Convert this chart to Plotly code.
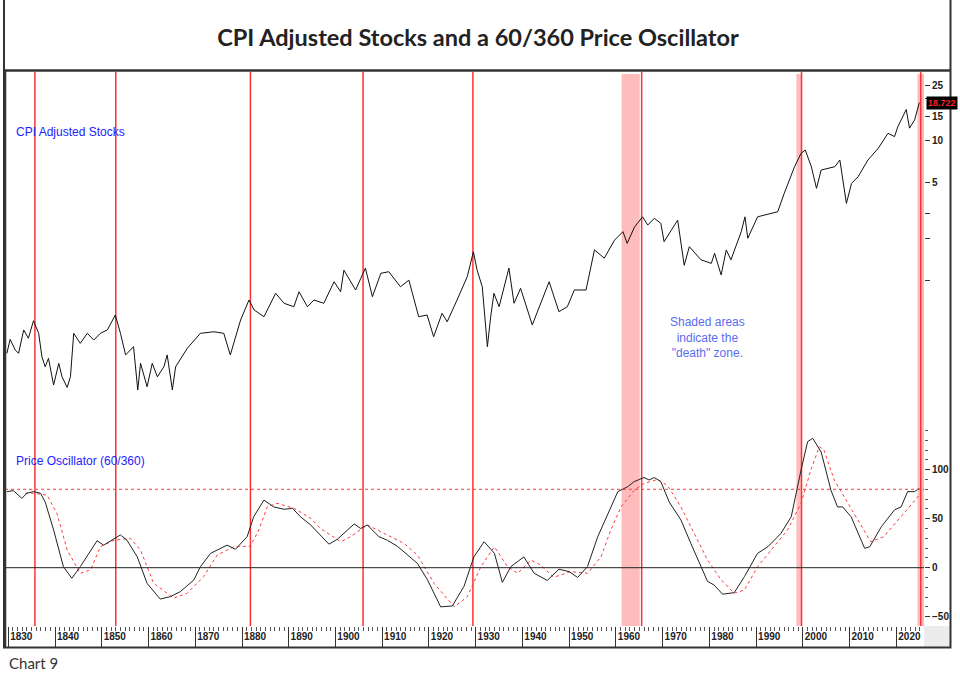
import plotly.graph_objects as go

# ---------------- data ----------------
price_years = [1829.7, 1830.4, 1831.5, 1832.2, 1833.3, 1834.3, 1835.4, 1836.5, 1837.2, 1837.9,
               1838.6, 1839.7, 1840.8, 1841.5, 1842.6, 1843.3, 1844.0, 1845.4, 1846.9, 1848.3,
               1849.7, 1851.2, 1852.9, 1854.0, 1855.1, 1856.8, 1857.7, 1858.3, 1859.7, 1860.8,
               1861.9, 1863.3, 1864.0, 1865.1, 1865.8, 1868.3, 1871.1, 1874.0, 1876.1, 1877.5,
               1879.7, 1881.5, 1882.6, 1884.7, 1887.2, 1889.0, 1891.1, 1892.2, 1894.0, 1895.4,
               1897.5, 1899.7, 1901.1, 1901.8, 1904.3, 1906.4, 1907.9, 1909.7, 1911.4, 1913.9,
               1915.7, 1917.8, 1919.6, 1921.0, 1922.8, 1923.9, 1926.0, 1928.2, 1929.5, 1930.3,
               1931.4, 1932.5, 1933.2, 1933.9, 1935.0, 1937.1, 1938.2, 1939.6, 1942.1, 1943.9,
               1945.7, 1947.8, 1949.6, 1951.1, 1953.6, 1955.4, 1957.5, 1959.7, 1961.5, 1962.4,
               1964.0, 1965.7, 1966.8, 1968.2, 1969.6, 1970.3, 1973.2, 1974.6, 1975.7, 1978.2,
               1980.4, 1981.1, 1982.5, 1983.6, 1984.6, 1986.8, 1987.6, 1988.2, 1990.3, 1991.7,
               1994.6, 1996.0, 1998.2, 1999.6, 2000.5, 2001.8, 2002.9, 2003.9, 2006.8, 2007.9,
               2009.3, 2010.4, 2011.8, 2013.9, 2016.1, 2018.2, 2019.6, 2020.3, 2022.1, 2022.8,
               2023.9, 2024.9]
price_values = [0.303, 0.381, 0.320, 0.303, 0.445, 0.388, 0.518, 0.421, 0.286, 0.243,
                0.279, 0.180, 0.257, 0.206, 0.173, 0.206, 0.421, 0.357, 0.421, 0.377,
                0.421, 0.445, 0.569, 0.421, 0.295, 0.338, 0.166, 0.257, 0.175, 0.257,
                0.206, 0.243, 0.295, 0.166, 0.243, 0.329, 0.421, 0.432, 0.421, 0.295,
                0.524, 0.728, 0.618, 0.553, 0.813, 0.690, 0.652, 0.834, 0.652, 0.728,
                0.690, 0.984, 0.834, 1.19, 0.859, 1.23, 0.769, 1.13, 1.16, 0.906,
                1.01, 0.553, 0.569, 0.398, 0.585, 0.509, 0.728, 1.07, 1.61, 1.19,
                0.906, 0.338, 0.553, 0.813, 0.652, 1.23, 0.690, 0.883, 0.483, 0.690,
                0.984, 0.601, 0.652, 0.859, 0.859, 1.66, 1.45, 1.95, 2.24, 1.85,
                2.43, 2.86, 2.50, 2.79, 2.57, 1.90, 2.71, 1.29, 1.75, 1.41,
                1.33, 1.57, 1.10, 1.66, 1.41, 2.24, 2.86, 2.01, 2.86, 2.94,
                3.11, 4.21, 6.52, 8.13, 8.59, 6.52, 4.57, 6.18, 6.52, 7.28,
                3.57, 4.96, 5.53, 7.28, 8.83, 11.3, 10.7, 12.6, 16.7, 12.3,
                14.1, 18.722]

osc_years = [1829.7, 1831.1, 1832.9, 1834.0, 1835.4, 1836.9, 1837.9, 1839.7, 1841.8, 1843.6,
             1845.4, 1847.6, 1849.0, 1850.4, 1852.2, 1854.0, 1855.4, 1857.6, 1859.7, 1862.5,
             1864.7, 1866.8, 1869.7, 1871.1, 1873.3, 1876.8, 1878.6, 1881.1, 1882.5, 1884.7,
             1886.8, 1889.0, 1890.8, 1892.5, 1894.7, 1896.8, 1898.6, 1900.4, 1904.0, 1905.4,
             1906.8, 1909.3, 1911.1, 1913.2, 1915.4, 1917.5, 1919.7, 1922.5, 1925.0, 1927.5,
             1929.6, 1931.8, 1934.0, 1935.7, 1937.5, 1940.3, 1942.5, 1945.3, 1947.8, 1950.0,
             1951.8, 1953.9, 1956.1, 1958.2, 1960.4, 1962.5, 1963.9, 1966.0, 1967.1, 1968.2,
             1969.6, 1971.4, 1973.9, 1976.0, 1978.2, 1979.6, 1981.0, 1982.8, 1985.3, 1987.5,
             1990.3, 1992.5, 1995.3, 1997.5, 1999.6, 2001.0, 2002.1, 2003.9, 2006.0, 2007.4,
             2008.5, 2010.3, 2013.2, 2014.3, 2016.8, 2019.6, 2021.0, 2022.4, 2023.9, 2024.9]
osc_values = [77.6, 78.6, 70.8, 76, 77.6, 76, 67, 38.5, 1, -10.8,
              1, 18, 27.5, 23, 28, 33.4, 28, 11, -16, -32,
              -29.5, -24.5, -12.5, 1, 14.7, 23, 18.8, 31.6, 52, 69,
              62, 59.6, 60.6, 52, 43.6, 33.4, 24, 29, 44.6, 40,
              43.6, 31.6, 28, 22, 13, 4.5, -12.5, -40, -39, -19,
              11, 26.5, 14.7, -15, 1, 11, -5.7, -13, -1.6, -4,
              -10, 1, 31.6, 54, 77.6, 82.6, 87.8, 92, 89.5, 92,
              87.8, 67, 48.7, 25, 1, -14, -17.7, -27, -25.5, -9,
              14.7, 21.4, 35, 52, 99.7, 128.6, 132, 118, 79, 62,
              62, 52, 19.8, 21.4, 42, 59, 62, 77.6, 77.6, 81]

sig_years = [1833.6, 1835.4, 1838.3, 1840.4, 1842.6, 1845.4, 1847.6, 1849.7, 1852.6, 1856.1,
             1858.3, 1861.1, 1865.4, 1868.3, 1871.8, 1874.7, 1878.3, 1881.8, 1883.6, 1885.4,
             1887.5, 1891.1, 1894.7, 1896.8, 1901.1, 1903.2, 1906.8, 1910.4, 1914.6, 1917.5,
             1921.1, 1925.4, 1928.2, 1931.1, 1934.0, 1936.8, 1939.0, 1941.8, 1943.9, 1946.7,
             1950.3, 1953.9, 1956.8, 1958.9, 1961.1, 1963.9, 1966.0, 1968.9, 1971.0, 1973.9,
             1976.7, 1979.6, 1982.5, 1985.3, 1987.5, 1990.3, 1993.8, 1996.7, 1999.6, 2001.7,
             2003.5, 2004.5, 2006.7, 2009.6, 2011.7, 2014.5, 2017.3, 2021.0, 2024.9]
sig_values = [76, 76, 74, 55.5, 18, -5.7, -2.3, 21.4, 28, 30,
              18, -16, -31, -26, -9, 13, 21.4, 22, 38.5, 62,
              65.7, 60.6, 50.4, 40, 26.5, 31.6, 43.6, 35, 25, 13,
              -16, -40, -29.6, 1, 21.4, 1, -5.7, 7.8, 2.7, -9.8,
              -4, -5.7, 11, 38.5, 62, 79, 86, 90, 84, 62,
              35, 7.8, -12.5, -26, -22.7, 1, 21.4, 38.5, 65.7, 99.7,
              123.5, 120, 89.5, 65.7, 48.7, 26.5, 31.6, 52, 74]

peak_years = [1835.7, 1853.0, 1881.8, 1905.9, 1929.4, 1965.5, 1999.7, 2025.2]
zone_starts = [1961.2, 1998.6, 2024.5]
zone_ends = [1965.1, 1999.7, 2025.9]
death_level = 80
last_value = 18.722

price_ticks = [1, 2, 3, 5, 10, 15, 20, 25]
price_ticktext = ["", "", "", "5", "10", "15", "", "25"]   # "20" is hidden behind the value box
osc_ticks = [-50, 0, 50, 100]
x_ticks = list(range(1830, 2030, 10))

# ---------------- figure ----------------
W, H = 960, 679
L, R, T, B = 5, 924, 72, 626          # plot area in pixels


def px(xp):
    return (xp - L) / (R - L)


def py(yp):
    return (B - yp) / (B - T)


AX_FONT = dict(family="Liberation Sans, Arial", size=10, color="#222", weight="bold")

fig = go.Figure()
fig.add_trace(go.Scatter(x=price_years, y=price_values, mode="lines",
                         line=dict(color="#111", width=1), yaxis="y", hoverinfo="skip"))
fig.add_trace(go.Scatter(x=sig_years, y=sig_values, mode="lines",
                         line=dict(color="#ff3b3b", width=1, dash="dot"), yaxis="y2",
                         hoverinfo="skip"))
fig.add_trace(go.Scatter(x=osc_years, y=osc_values, mode="lines",
                         line=dict(color="#222", width=1), yaxis="y2", hoverinfo="skip"))

shapes = []
for s, e in zip(zone_starts, zone_ends):
    shapes.append(dict(type="rect", xref="x", yref="paper", x0=s, x1=e, y0=0, y1=py(74),
                       fillcolor="#ffbcbc", line=dict(width=0), layer="below"))
for yr in peak_years:
    shapes.append(dict(type="line", xref="x", yref="paper", x0=yr, x1=yr, y0=0, y1=1,
                       line=dict(color="#ff3030", width=1.5), layer="below"))
shapes.append(dict(type="line", xref="paper", yref="y2", x0=0, x1=1, y0=0, y1=0,
                   line=dict(color="#222", width=1)))
shapes.append(dict(type="line", xref="paper", yref="y2", x0=0, x1=1, y0=death_level,
                   y1=death_level, line=dict(color="#ff3b3b", width=1, dash="dot")))
# frame
shapes.append(dict(type="rect", xref="paper", yref="paper", x0=px(R), x1=px(950),
                   y0=py(647), y1=py(B), fillcolor="#ececec", line=dict(width=0)))
shapes.append(dict(type="rect", xref="paper", yref="paper", x0=px(4), x1=px(950.5),
                   y0=py(647.5), y1=py(-2), line=dict(color="#333", width=2),
                   fillcolor="rgba(0,0,0,0)"))
shapes.append(dict(type="line", xref="paper", yref="paper", x0=px(4), x1=px(950.5),
                   y0=py(70.5), y1=py(70.5), line=dict(color="#333", width=2.5)))
shapes.append(dict(type="line", xref="paper", yref="paper", x0=px(5), x1=px(5),
                   y0=py(647), y1=py(71), line=dict(color="#333", width=2.5)))

annotations = [
    dict(text="CPI Adjusted Stocks", xref="paper", yref="paper", x=px(14), y=py(132),
         xanchor="left", yanchor="middle", showarrow=False,
         font=dict(family="Liberation Sans, Arial", size=12, color="#2222ff")),
    dict(text="Price Oscillator (60/360)", xref="paper", yref="paper", x=px(14), y=py(461),
         xanchor="left", yanchor="middle", showarrow=False,
         font=dict(family="Liberation Sans, Arial", size=12, color="#2222ff")),
    dict(text="Shaded areas<br>indicate the<br>\"death\" zone.", xref="paper", yref="paper",
         x=px(707), y=py(337), xanchor="center", yanchor="middle", showarrow=False,
         align="center",
         font=dict(family="Liberation Sans, Arial", size=12, color="#5a6cf0")),
    dict(text=f"{last_value:.3f}", xref="paper", yref="y", x=px(925.5), y=1.2723,
         xanchor="left", yanchor="middle", showarrow=False, bgcolor="#000",
         borderpad=1,
         font=dict(family="Liberation Sans, Arial", size=9, color="#ff2020", weight="bold")),
    dict(text="Chart 9", xref="paper", yref="paper", x=px(7), y=py(663),
         xanchor="left", yanchor="middle", showarrow=False,
         font=dict(family="Lato", size=15, color="#333")),
]

fig.update_layout(
    width=W, height=H,
    margin=dict(l=L, r=W - R, t=T, b=H - B),
    paper_bgcolor="white", plot_bgcolor="white",
    showlegend=False,
    title=dict(text="CPI Adjusted Stocks and a 60/360 Price Oscillator",
               x=478 / W, xanchor="center", y=1 - 38 / H, yanchor="middle",
               font=dict(family="Lato", size=23.5, color="#222", weight="bold")),
    xaxis=dict(range=[1829.3, 2025.9], anchor="y2", tickvals=x_ticks,
               ticktext=[str(v) for v in x_ticks], ticks="outside", ticklen=20,
               tickcolor="#333", tickwidth=1, tickfont=AX_FONT, ticklabelshift=13,
               ticklabelstandoff=-19, showgrid=False, zeroline=False, showline=False,
               minor=dict(dtick=1, tick0=1830, ticks="outside", ticklen=4, tickcolor="#555")),
    yaxis=dict(type="log", domain=[py(400), 1], range=[-0.852, 1.491], side="right",
               tickvals=price_ticks, ticktext=price_ticktext, ticks="outside", ticklen=5,
               tickcolor="#333", tickfont=AX_FONT, showgrid=False, zeroline=False,
               showline=False),
    yaxis2=dict(domain=[0, py(430)], range=[-59.5, 140.5], side="right", anchor="x",
                tickvals=osc_ticks, ticks="outside", ticklen=5, tickcolor="#333",
                tickfont=AX_FONT, showgrid=False, zeroline=False, showline=False,
                minor=dict(dtick=10, ticks="outside", ticklen=3, tickcolor="#555")),
    shapes=shapes,
    annotations=annotations,
)

fig.write_html("out.html", config={"displayModeBar": False},
               post_script="document.body.style.margin='0';document.body.style.padding='0';")
